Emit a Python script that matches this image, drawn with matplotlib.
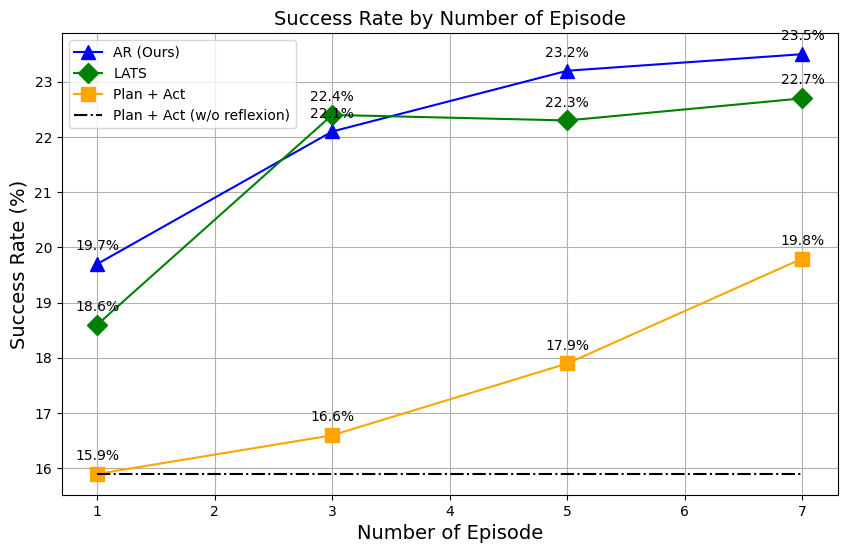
import matplotlib

matplotlib.use("Agg")
import matplotlib.pyplot as plt

episodes = [1, 3, 5, 7]
ar_ours = [19.7, 22.1, 23.2, 23.5]
lats = [18.6, 22.4, 22.3, 22.7]
plan_act = [15.9, 16.6, 17.9, 19.8]
plan_act_no_reflexion = 15.9

fig, ax = plt.subplots(figsize=(8.47, 5.53), dpi=100)

series = [
    ("AR (Ours)", ar_ours, "blue", "^"),
    ("LATS", lats, "green", "D"),
    ("Plan + Act", plan_act, "orange", "s"),
]
for label, ys, color, marker in series:
    ax.plot(episodes, ys, color=color, marker=marker, markersize=10, label=label)
    for x, y in zip(episodes, ys):
        ax.annotate(f"{y}%", (x, y), textcoords="offset points", xytext=(0, 10),
                    ha="center", fontsize=10)

ax.plot([episodes[0], episodes[-1]], [plan_act_no_reflexion] * 2, color="black",
        linestyle="-.", label="Plan + Act (w/o reflexion)")

ax.set_title("Success Rate by Number of Episode", fontsize=14)
ax.set_xlabel("Number of Episode", fontsize=14)
ax.set_ylabel("Success Rate (%)", fontsize=14)
ax.grid(True)
ax.legend(loc="upper left")

fig.subplots_adjust(left=0.073, right=0.989, top=0.94, bottom=0.105)
fig.savefig("out.png")
plt.close(fig)
